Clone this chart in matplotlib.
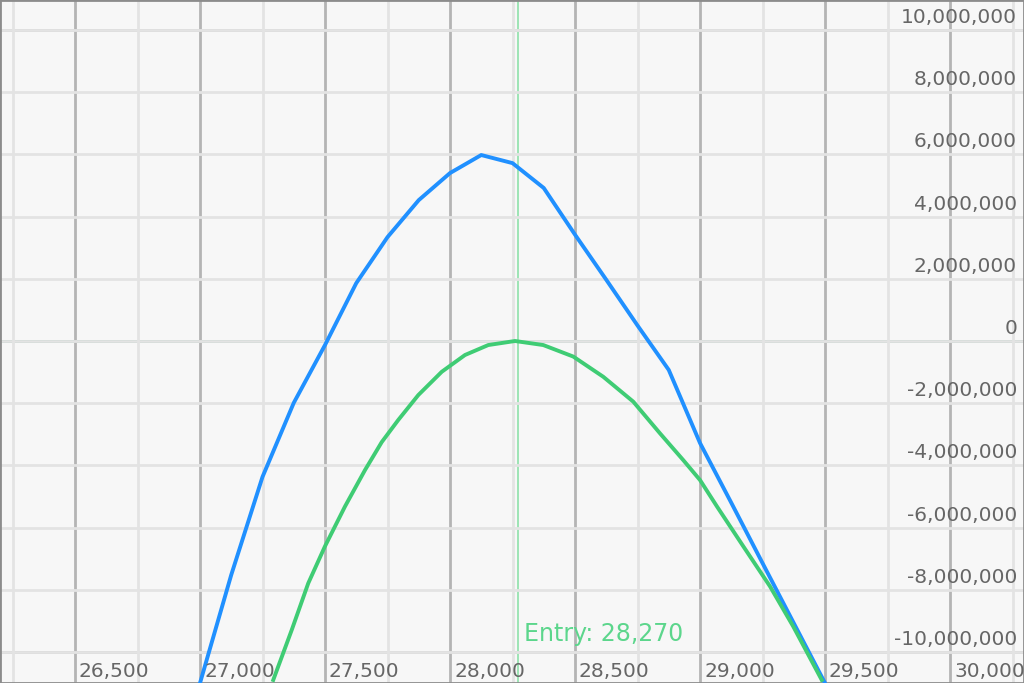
import matplotlib
matplotlib.use("Agg")
import matplotlib.pyplot as plt
from matplotlib.ticker import MultipleLocator, FixedLocator

# blue curve, x = price, y = value
blue_x = [27000, 27125, 27250, 27375, 27500, 27625, 27750, 27875, 28000, 28125,
          28250, 28375, 28500, 28625, 28750, 28875, 29000, 29125, 29250, 29375, 29500]
blue_y = [-11.0e6, -7.52e6, -4.37e6, -1.99e6, -0.13e6, 1.86e6, 3.34e6, 4.53e6, 5.40e6, 5.98e6,
          5.72e6, 4.92e6, 3.42e6, 1.97e6, 0.50e6, -0.93e6, -3.28e6, -5.20e6, -7.14e6, -9.07e6, -11.0e6]

# green curve
green_x = [27293, 27367, 27433, 27500, 27580, 27660, 27727, 27793, 27873, 27967, 28060, 28153,
           28260, 28373, 28493, 28613, 28733, 28840, 28933, 29000, 29067, 29173, 29280, 29373, 29487]
green_y = [-10.90e6, -9.29e6, -7.79e6, -6.60e6, -5.32e6, -4.15e6, -3.25e6, -2.54e6, -1.74e6,
           -0.99e6, -0.45e6, -0.13e6, 0.0, -0.13e6, -0.50e6, -1.15e6, -1.95e6, -2.97e6,
           -3.83e6, -4.47e6, -5.31e6, -6.60e6, -7.89e6, -9.18e6, -10.90e6]

entry = 28270
x_ticks = [26500, 27000, 27500, 28000, 28500, 29000, 29500, 30000]
y_ticks = [10e6, 8e6, 6e6, 4e6, 2e6, 0, -2e6, -4e6, -6e6, -8e6, -10e6]

fig = plt.figure(figsize=(10.24, 6.83), dpi=100)
ax = fig.add_axes([0, 0, 1, 1])
ax.set_facecolor("#f7f7f7")
ax.set_xlim(26200, 30296)
ax.set_ylim(-10.997e6, 10.965e6)

# grid
ax.xaxis.set_major_locator(FixedLocator(x_ticks))
ax.xaxis.set_minor_locator(FixedLocator([v - 250 for v in x_ticks] + [30250]))
ax.yaxis.set_major_locator(MultipleLocator(2e6))
ax.grid(which="major", axis="x", color="#b4b4b4", lw=2, zorder=0)
ax.grid(which="minor", axis="x", color="#e3e3e3", lw=2, zorder=0)
ax.grid(which="major", axis="y", color="#e3e3e3", lw=2, zorder=0)
for v in (10e6, -10e6):
    ax.axhline(v, color="#bdbdbd", lw=2, zorder=0.5)
ax.tick_params(which="both", length=0, labelbottom=False, labelleft=False)
for s in ax.spines.values():
    s.set_color("#8c8c8c")
    s.set_linewidth(2)

ax.axvline(entry, color="#96e3b0", lw=1.3, zorder=1)
ax.axhline(0, color="#6aa98a", lw=1.8, zorder=1)

ax.plot(blue_x, blue_y, color="#2090ff", lw=2.8, zorder=3)
ax.plot(green_x, green_y, color="#3fcc74", lw=2.8, zorder=4)

# tick labels drawn inside the plot
for v in x_ticks:
    ax.annotate(f"{v:,}", xy=(v, 0), xycoords=("data", "axes fraction"),
                xytext=(4, 2), textcoords="offset pixels", ha="left", va="bottom",
                fontsize=14.5, color="#666666")
for v in y_ticks:
    ax.annotate(f"{v:,.0f}", xy=(1, v), xycoords=("axes fraction", "data"),
                xytext=(-7, 3), textcoords="offset pixels", ha="right", va="bottom",
                fontsize=14.5, color="#666666")

ax.annotate(f"Entry: {entry:,}", xy=(entry, -10e6), xycoords="data",
            xytext=(7, 6), textcoords="offset pixels", ha="left", va="bottom",
            fontsize=17, color="#5cd68c")

fig.savefig("out.png", dpi=100)
